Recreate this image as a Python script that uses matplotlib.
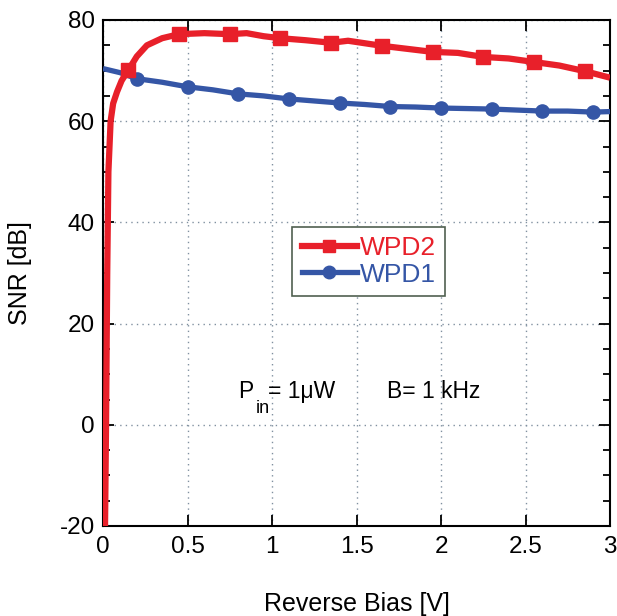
import matplotlib
matplotlib.use("Agg")
import matplotlib.pyplot as plt
from matplotlib.ticker import MultipleLocator

plt.rcParams['font.family'] = ['Liberation Sans', 'DejaVu Sans']
plt.rcParams['axes.unicode_minus'] = False

# WPD2 curve (line) and markers
wpd2_line_x = [0.012, 0.018, 0.025, 0.032, 0.045, 0.06, 0.083, 0.11, 0.15, 0.2, 0.26, 0.35,
               0.45, 0.6, 0.75, 0.85, 0.95, 1.05, 1.2, 1.35, 1.45, 1.65, 1.8, 1.95, 2.1,
               2.25, 2.4, 2.55, 2.7, 2.85, 3.0]
wpd2_line_y = [-20, 0, 30, 50, 60, 63.5, 65.8, 68.0, 70.1, 72.8, 75.0, 76.4,
               77.2, 77.4, 77.2, 77.4, 76.8, 76.4, 76.0, 75.5, 75.9, 74.9, 74.3, 73.7, 73.5,
               72.7, 72.4, 71.7, 71.0, 69.9, 68.6]
wpd2_mark_x = [0.15, 0.45, 0.75, 1.05, 1.35, 1.65, 1.95, 2.25, 2.55, 2.85]
wpd2_mark_y = [70.1, 77.2, 77.2, 76.4, 75.5, 74.9, 73.7, 72.7, 71.7, 69.9]

# WPD1 curve (line) and markers
wpd1_line_x = [0.0, 0.1, 0.2, 0.35, 0.5, 0.65, 0.8, 0.95, 1.1, 1.25, 1.4, 1.55, 1.7,
               1.85, 2.0, 2.15, 2.3, 2.45, 2.6, 2.75, 2.9, 3.0]
wpd1_line_y = [70.4, 69.6, 68.4, 67.7, 66.8, 66.2, 65.4, 65.0, 64.4, 64.0, 63.6, 63.3, 62.9,
               62.8, 62.6, 62.5, 62.4, 62.2, 62.0, 62.0, 61.8, 61.9]
wpd1_mark_x = [0.2, 0.5, 0.8, 1.1, 1.4, 1.7, 2.0, 2.3, 2.6, 2.9]
wpd1_mark_y = [68.4, 66.8, 65.4, 64.4, 63.6, 62.9, 62.6, 62.4, 62.0, 61.8]

x_ticks = [0, 0.5, 1, 1.5, 2, 2.5, 3]
x_tick_labels = ['0', '0.5', '1', '1.5', '2', '2.5', '3']

red = '#e8202a'
blue = '#3556a6'

fig = plt.figure(figsize=(6.17, 6.16), dpi=100)
ax = fig.add_axes([103 / 617, 90 / 616, 507 / 617, 506 / 616])

ax.plot(wpd1_line_x, wpd1_line_y, color=blue, lw=3.8, solid_capstyle='butt', zorder=3)
ax.plot(wpd1_mark_x, wpd1_mark_y, 'o', color=blue, ms=9.5, zorder=4)
ax.plot(wpd2_line_x, wpd2_line_y, color=red, lw=4.5, solid_capstyle='butt', zorder=5)
ax.plot(wpd2_mark_x, wpd2_mark_y, 's', color=red, ms=10, zorder=6)

# legend proxies
h2, = ax.plot([], [], color=red, lw=4.5, marker='s', ms=9)
h1, = ax.plot([], [], color=blue, lw=3.8, marker='o', ms=9)
leg = ax.legend([h2, h1], ['WPD2', 'WPD1'], loc='center', bbox_to_anchor=(0.524, 0.523),
                fancybox=False, edgecolor='#506050', framealpha=1, fontsize=19,
                handlelength=2.1, handletextpad=0.1, borderpad=0.35, labelspacing=0.1,
                borderaxespad=0)
leg.get_frame().set_linewidth(1.2)
for t, c in zip(leg.get_texts(), [red, blue]):
    t.set_color(c)

ax.set_xlim(0, 3)
ax.set_ylim(-20, 80)
ax.yaxis.set_major_locator(MultipleLocator(20))
ax.yaxis.set_minor_locator(MultipleLocator(5))
ax.set_xticks(x_ticks)
ax.set_xticklabels(x_tick_labels)

ax.tick_params(which='both', direction='in', top=True, right=True, labelsize=17.5, width=1.3)
ax.tick_params(which='major', length=8, pad=6)
ax.tick_params(which='minor', length=5)
ax.tick_params(axis='x', which='minor', top=False, bottom=False)
ax.tick_params(axis='x', pad=7)

ax.grid(True, which='major', linestyle=(0, (1, 3)), color='#8090a0', lw=1.0)
for s in ax.spines.values():
    s.set_linewidth(1.5)

ax.set_xlabel('Reverse Bias [V]', fontsize=18, labelpad=25)
ax.set_ylabel('SNR [dB]', fontsize=18, labelpad=19.5)

ax.text(0.799, 5.3, 'P', fontsize=16.5, va='baseline', ha='left', zorder=7)
ax.text(0.905, 2.3, 'in', fontsize=13, va='baseline', ha='left', zorder=7)
ax.text(0.976, 5.3, '= 1μW', fontsize=16.5, va='baseline', ha='left', zorder=7)
ax.text(1.68, 5.3, 'B= 1 kHz', fontsize=16.5, va='baseline', ha='left', zorder=7)

fig.savefig('out.png', dpi=100)
